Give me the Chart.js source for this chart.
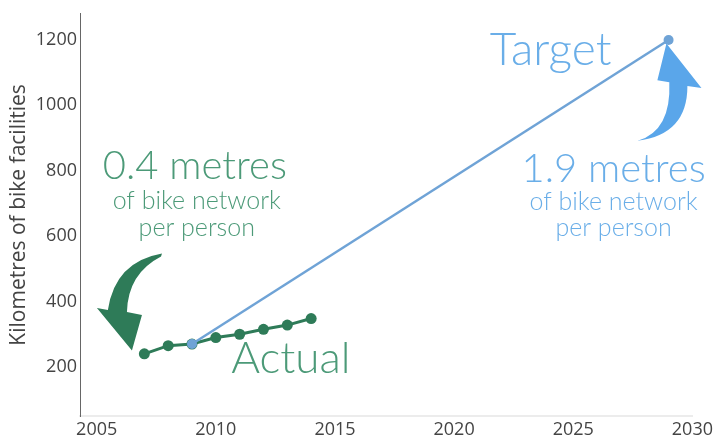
<!DOCTYPE html>
<html>
<head>
<meta charset="utf-8">
<script src="https://cdn.jsdelivr.net/npm/chart.js@4/dist/chart.umd.min.js"></script>
<style>
  html, body { margin: 0; padding: 0; background: #fff; }
  #wrap { width: 716px; height: 443px; }
</style>
</head>
<body>
<div id="wrap"><canvas id="c" width="716" height="443"></canvas></div>
<script>
// ---- data ----
const actualYears = [2007, 2008, 2009, 2010, 2011, 2012, 2013, 2014];
const actualValues = [240, 265, 270, 290, 300, 315, 328, 348];
const targetYears = [2009, 2029];
const targetValues = [270, 1200];
const xTicks = [2005, 2010, 2015, 2020, 2025, 2030];
const yTicks = [200, 400, 600, 800, 1000, 1200];
const yTitle = 'Kilometres of bike facilities';

// annotation text (data coordinates)
const greenTexts = [
  { text: '0.4 metres', x: 2009.12, y: 774, size: 40 },
  { text: 'of bike network', x: 2009.2, y: 683, size: 25 },
  { text: 'per person', x: 2009.2, y: 601, size: 25 },
  { text: 'Actual', x: 2013.15, y: 180, size: 44 }
];
const blueTexts = [
  { text: 'Target', x: 2024.05, y: 1122, size: 46 },
  { text: '1.9 metres', x: 2026.69, y: 765, size: 40 },
  { text: 'of bike network', x: 2026.69, y: 680, size: 25 },
  { text: 'per person', x: 2026.69, y: 601, size: 25 }
];
// arrow outlines in data coordinates: [type, x, y, (cx, cy)]
const greenArrow = [
  ['M', 2007.74, 547],
  ['Q', 2005.77, 522, 2005.47, 374],
  ['L', 2005.01, 380],
  ['L', 2006.48, 250],
  ['L', 2006.90, 359],
  ['L', 2006.27, 368],
  ['Q', 2006.31, 486, 2007.70, 538]
];
const blueArrow = [
  ['M', 2027.70, 892],
  ['Q', 2029.79, 910, 2029.79, 1059],
  ['L', 2030.38, 1053],
  ['L', 2028.91, 1189],
  ['L', 2028.53, 1077],
  ['L', 2029.03, 1071],
  ['Q', 2029.12, 922, 2027.70, 892]
];

const GREEN = '#2e7b58';
const GREEN_TEXT = '#4c9a78';
const BLUE_LINE = '#6fa3d6';
const BLUE_ARROW = '#5aa6ea';
const BLUE_TEXT = '#6aaee8';
const THIN = '"Lato", "Open Sans", sans-serif';

const annot = {
  id: 'annot',
  afterDatasetsDraw(chart) {
    const ctx = chart.ctx, xs = chart.scales.x, ys = chart.scales.y;
    const px = v => xs.getPixelForValue(v), py = v => ys.getPixelForValue(v);
    function drawArrow(def, color) {
      ctx.save();
      ctx.beginPath();
      def.forEach(s => {
        if (s[0] === 'M') ctx.moveTo(px(s[1]), py(s[2]));
        else if (s[0] === 'L') ctx.lineTo(px(s[1]), py(s[2]));
        else ctx.quadraticCurveTo(px(s[1]), py(s[2]), px(s[3]), py(s[4]));
      });
      ctx.closePath();
      ctx.fillStyle = color;
      ctx.fill();
      ctx.restore();
    }
    function drawTexts(list, color) {
      ctx.save();
      ctx.fillStyle = color;
      ctx.textAlign = 'center';
      ctx.textBaseline = 'alphabetic';
      list.forEach(t => {
        ctx.font = '300 ' + t.size + 'px ' + THIN;
        ctx.fillText(t.text, px(t.x), py(t.y));
      });
      ctx.restore();
    }
    drawArrow(greenArrow, GREEN);
    drawArrow(blueArrow, BLUE_ARROW);
    drawTexts(greenTexts, GREEN_TEXT);
    drawTexts(blueTexts, BLUE_TEXT);
  }
};

new Chart(document.getElementById('c'), {
  type: 'line',
  data: {
    datasets: [
      {
        label: 'Target',
        data: targetYears.map((x, i) => ({ x: x, y: targetValues[i] })),
        borderColor: BLUE_LINE,
        backgroundColor: BLUE_LINE,
        borderWidth: 2.5,
        pointRadius: 5,
        pointHoverRadius: 5,
        pointBorderWidth: 0,
        order: 0
      },
      {
        label: 'Actual',
        data: actualYears.map((x, i) => ({ x: x, y: actualValues[i] })),
        borderColor: GREEN,
        backgroundColor: GREEN,
        borderWidth: 3,
        pointRadius: 5.5,
        pointHoverRadius: 5.5,
        pointBorderWidth: 0,
        order: 1
      }
    ]
  },
  options: {
    responsive: false,
    animation: false,
    layout: { padding: { left: 0, right: 23, top: 10, bottom: 0 } },
    plugins: { legend: { display: false }, tooltip: { enabled: false } },
    scales: {
      x: {
        type: 'linear',
        min: 2004.3,
        max: 2030,
        afterBuildTicks: s => { s.ticks = xTicks.map(v => ({ value: v })); },
        afterFit: s => { s.height = 27; },
        grid: { display: false, drawTicks: false },
        border: { display: true, color: '#ececec', width: 2 },
        ticks: {
          color: '#444',
          padding: 3,
          font: { family: '"Open Sans", sans-serif', size: 18 },
          maxRotation: 0,
          callback: v => String(v)
        }
      },
      y: {
        type: 'linear',
        min: 50,
        max: 1280,
        afterBuildTicks: s => { s.ticks = yTicks.map(v => ({ value: v })); },
        afterFit: s => { s.width = 80; },
        grid: { display: false, drawTicks: false },
        border: { display: true, color: '#666', width: 1 },
        title: {
          display: true,
          text: yTitle,
          color: '#444',
          padding: { top: 6, bottom: 0 },
          font: { family: '"Open Sans", sans-serif', size: 21 }
        },
        ticks: {
          color: '#444',
          padding: 3,
          font: { family: '"Open Sans", sans-serif', size: 18 },
          callback: v => String(v)
        }
      }
    }
  },
  plugins: [annot]
});
</script>
</body>
</html>
